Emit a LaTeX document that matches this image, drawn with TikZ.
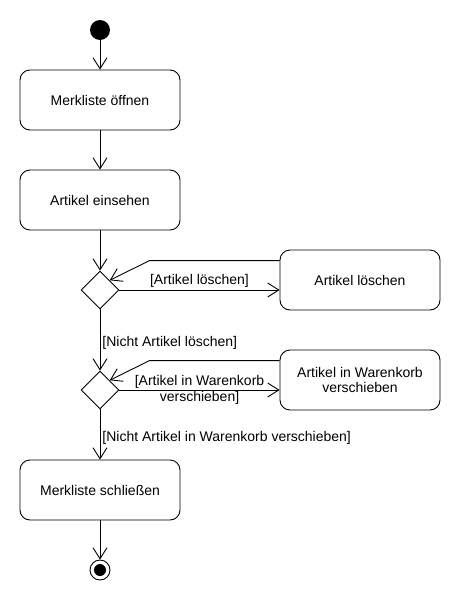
\documentclass[tikz,border=0pt]{standalone}
\usepackage{fontspec}
\setmainfont{Liberation Sans}
\usetikzlibrary{arrows.meta,shapes.geometric}

\begin{document}
\begin{tikzpicture}[x=1pt, y=-1pt, line width=0.9pt, >={Straight Barb[length=11pt,width=14pt,line width=0.9pt]},
	font=\fontsize{14}{15.5}\selectfont,
	action/.style={draw, rounded corners=10pt, minimum width=160pt, minimum height=60pt, align=center, inner sep=0pt},
	decision/.style={draw, diamond, minimum width=38pt, minimum height=38pt, inner sep=0pt},
	guard/.style={inner sep=2pt, align=center}]
	\useasboundingbox (0,0) rectangle (460,600);
	
	% Start and end states
	\node[circle, fill, minimum size=20pt, inner sep=0pt] (start) at (100,30) {};
	\node[circle, draw, minimum size=20pt, inner sep=0pt] (stop) at (100,570) {};
	\node[circle, fill, minimum size=12pt, inner sep=0pt] (stopdot) at (stop) {};
	
	% Actions on the main path
	\node[action] (open) at (100,100) {Merkliste öffnen};
	\node[action] (view) at (100,200) {Artikel einsehen};
	\node[action] (close) at (100,490) {Merkliste schließen};
	
	% Decisions and side actions
	\node[decision] (dec1) at (100,290) {};
	\node[decision] (dec2) at (100,390) {};
	\node[action] (delete) at (360,280) {Artikel löschen};
	\node[action] (move) at (360,380) {Artikel in Warenkorb\\verschieben};
	
	% Main flow
	\draw[->] (start) -- (open);
	\draw[->] (open) -- (view);
	\draw[->] (view) -- (dec1);
	\draw[->] (dec1) -- node[pos=0.55, right, guard] {[Nicht Artikel löschen]} (dec2);
	\draw[->] (dec2) -- node[pos=0.57, right, guard] {[Nicht Artikel in Warenkorb verschieben]} (close);
	\draw[->] (close) -- (stop);
	
	% Side branches and their way back
	\draw[->] (dec1.east) -- node[midway, above, guard] {[Artikel löschen]} (dec1.east -| delete.west);
	\draw[->] ([yshift=-11pt]delete.north west) -- ++(-130,0) -- (dec1.north east);
	\draw[->] (dec2.east) -- node[midway, guard] {[Artikel in Warenkorb\\ verschieben]} (dec2.east -| move.west);
	\draw[->] ([yshift=-11pt]move.north west) -- ++(-130,0) -- (dec2.north east);
\end{tikzpicture}
\end{document}
